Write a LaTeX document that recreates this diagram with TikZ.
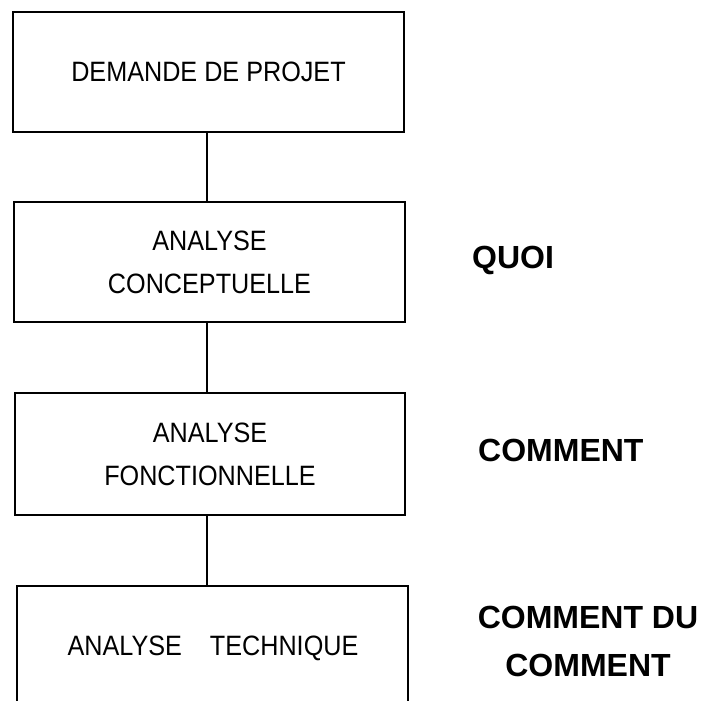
\documentclass[tikz,border=0pt]{standalone}
\usepackage{fontspec}
\setmainfont{Liberation Sans}
\newfontfamily\plotfont[FakeStretch=0.9]{Liberation Sans}
\begin{document}
\begin{tikzpicture}[x=1pt,y=-1pt,
  stage/.style={draw, line width=1.8pt, minimum width=391pt, minimum height=120pt, inner sep=0pt, align=center, font=\plotfont\fontsize{28}{43}\selectfont},
  stagetext/.style={inner sep=0pt, align=center, font=\plotfont\fontsize{28}{43}\selectfont},
  tag/.style={inner sep=0pt, align=center, font=\fontsize{32}{48}\selectfont\bfseries},
  link/.style={line width=1.8pt}]
\useasboundingbox (0,0) rectangle (710,701);
\clip (0,0) rectangle (710,701);
\fill[white] (0,0) rectangle (710,701);
\node[stage] (b1) at (208.5,72) {DEMANDE DE PROJET};
\node[stage] (b2) at (209.5,262) {ANALYSE\\CONCEPTUELLE};
\node[stage, minimum width=390pt, minimum height=122pt] (b3) at (210,454) {ANALYSE\\FONCTIONNELLE};
\node[stage, minimum height=240pt] (b4) at (212.5,706) {};
\node[stagetext] (t4) at (213,648) {ANALYSE\hspace{1em}TECHNIQUE};
\coordinate (x0) at (207,0);
\draw[link] (b1.south -| x0) -- (b2.north -| x0);
\draw[link] (b2.south -| x0) -- (b3.north -| x0);
\draw[link] (b3.south -| x0) -- (b4.north -| x0);
\node[tag, anchor=west] (q) at (472,260) {QUOI};
\node[tag, anchor=west] (c) at (478,450) {COMMENT};
\node[tag] (cdc) at (588,641) {COMMENT DU\\COMMENT};
\end{tikzpicture}
\end{document}
